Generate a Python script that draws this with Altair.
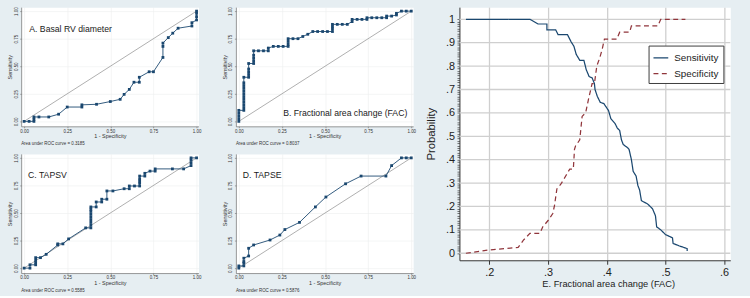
import altair as alt
import pandas as pd

NAVY = "#1a476f"
MAROON = "#90353b"
BG = "#e6eef2"
LABELFONT = "Liberation Sans, Arial, sans-serif"
SANS = "Liberation Sans, Arial, sans-serif"

# ---------------- ROC data (1 - specificity, sensitivity) ----------------
a_fpr = [0, 0.029, 0.057, 0.057, 0.057, 0.086, 0.143, 0.2, 0.25, 0.335, 0.335, 0.42, 0.5,
         0.557, 0.58, 0.61, 0.637, 0.668, 0.668, 0.725, 0.75, 0.805, 0.805, 0.805, 0.836,
         0.862, 0.893, 0.973, 0.973, 1, 1, 1, 1]
a_tpr = [0, 0, 0, 0.02, 0.04, 0.04, 0.04, 0.065, 0.13, 0.13, 0.15, 0.155, 0.18,
         0.2, 0.245, 0.29, 0.355, 0.355, 0.4, 0.45, 0.45, 0.58, 0.68, 0.71, 0.76,
         0.8, 0.845, 0.865, 0.895, 0.92, 0.95, 0.98, 1]

b_fpr = [0, 0, 0, 0, 0,
         0.029, 0.029, 0.029, 0.029, 0.029, 0.029, 0.029, 0.029, 0.029, 0.029, 0.029, 0.029,
         0.057, 0.057, 0.057, 0.057, 0.057,
         0.086, 0.086, 0.086, 0.086, 0.086,
         0.114, 0.143, 0.171, 0.171, 0.2, 0.229, 0.257, 0.286, 0.286, 0.286, 0.286,
         0.314, 0.343, 0.371, 0.4, 0.429, 0.457, 0.486, 0.514, 0.543, 0.543, 0.543, 0.543,
         0.571, 0.6, 0.629, 0.657, 0.657, 0.686, 0.714, 0.743, 0.743,
         0.771, 0.8, 0.829, 0.857, 0.857, 0.886, 0.914, 0.914, 0.943, 0.971, 1]
b_tpr = [0, 0.025, 0.05, 0.075, 0.1,
         0.1, 0.125, 0.15, 0.175, 0.2, 0.225, 0.25, 0.275, 0.3, 0.325, 0.35, 0.4,
         0.4, 0.425, 0.45, 0.475, 0.525,
         0.525, 0.55, 0.575, 0.6, 0.64,
         0.64, 0.64, 0.64, 0.665, 0.68, 0.68, 0.68, 0.68, 0.7, 0.725, 0.75,
         0.75, 0.75, 0.77, 0.79, 0.815, 0.815, 0.815, 0.815, 0.815, 0.84, 0.86, 0.88,
         0.88, 0.88, 0.88, 0.905, 0.925, 0.925, 0.925, 0.925, 0.94,
         0.94, 0.94, 0.94, 0.94, 0.955, 0.955, 0.965, 0.98, 1, 1, 1]

c_fpr = [0, 0.034, 0.034, 0.067, 0.067, 0.067, 0.067, 0.095, 0.128, 0.195, 0.195, 0.225,
         0.258, 0.357, 0.387, 0.387, 0.387, 0.387, 0.387, 0.387, 0.387, 0.387, 0.387,
         0.418, 0.418, 0.45, 0.45, 0.48, 0.48, 0.515, 0.58, 0.61, 0.61, 0.64, 0.67, 0.67,
         0.67, 0.67, 0.67, 0.7, 0.7, 0.73, 0.76, 0.76, 0.86, 0.925, 0.968, 0.968, 0.968,
         0.968, 1]
c_tpr = [0, 0, 0.03, 0.03, 0.05, 0.07, 0.095, 0.095, 0.125, 0.21, 0.22, 0.22,
         0.265, 0.365, 0.365, 0.39, 0.415, 0.44, 0.465, 0.49, 0.515, 0.535, 0.555,
         0.555, 0.6, 0.6, 0.625, 0.625, 0.7, 0.7, 0.72, 0.72, 0.745, 0.745, 0.745, 0.77,
         0.79, 0.81, 0.835, 0.835, 0.86, 0.88, 0.88, 0.9, 0.9, 0.9, 0.93, 0.955, 0.98,
         1, 1]

d_fpr = [0, 0, 0.029, 0.029, 0.029, 0.029, 0.057, 0.057, 0.086, 0.181, 0.238, 0.267,
         0.352, 0.444, 0.505, 0.619, 0.709, 0.853, 0.886, 0.943, 0.971, 1]
d_tpr = [0, 0.02, 0.02, 0.045, 0.06, 0.09, 0.11, 0.18, 0.21, 0.255, 0.3, 0.35,
         0.415, 0.555, 0.645, 0.765, 0.835, 0.835, 0.93, 1, 1, 1]

roc_titles = ["A. Basal RV diameter", "B. Fractional area change (FAC)", "C. TAPSV", "D. TAPSE"]
roc_auc = ["Area under ROC curve = 0.3185", "Area under ROC curve = 0.8037",
           "Area under ROC curve = 0.5585", "Area under ROC curve = 0.5876"]
roc_label_pos = [(0.03, 0.84), (0.257, 0.08), (0.023, 0.84), (0.023, 0.84)]
roc_ticks = [0, 0.25, 0.5, 0.75, 1]
diag_pts = [0, 1]

# ---------------- sensitivity / specificity vs FAC cut-off ----------------
sens_x = [0.16, 0.269, 0.283, 0.298, 0.298, 0.313, 0.317, 0.333, 0.339, 0.344, 0.348,
          0.354, 0.361, 0.365, 0.37, 0.375, 0.379, 0.38, 0.384, 0.389, 0.395, 0.403,
          0.407, 0.414, 0.418, 0.422, 0.425, 0.428, 0.436, 0.438, 0.442, 0.445, 0.45,
          0.453, 0.456, 0.459, 0.47, 0.478, 0.483, 0.485, 0.492, 0.5, 0.512, 0.513,
          0.523, 0.537, 0.537]
sens_y = [1.0, 1.0, 0.98, 0.98, 0.955, 0.955, 0.935, 0.935, 0.905, 0.885, 0.85,
          0.825, 0.825, 0.785, 0.755, 0.75, 0.725, 0.7, 0.67, 0.645, 0.64, 0.61,
          0.575, 0.555, 0.535, 0.525, 0.485, 0.465, 0.45, 0.444, 0.40, 0.35, 0.33,
          0.29, 0.27, 0.225, 0.21, 0.19, 0.16, 0.113, 0.1, 0.08, 0.066, 0.042,
          0.032, 0.02, 0.01]
spec_x = [0.16, 0.199, 0.249, 0.258, 0.269, 0.286, 0.291, 0.3, 0.308, 0.311, 0.315,
          0.322, 0.33, 0.337, 0.343, 0.344, 0.345, 0.347, 0.35, 0.354, 0.358, 0.364,
          0.369, 0.375, 0.379, 0.383, 0.388, 0.392, 0.396, 0.417, 0.422, 0.439, 0.442,
          0.487, 0.492, 0.534]
spec_y = [0.0, 0.014, 0.025, 0.056, 0.085, 0.085, 0.113, 0.14, 0.17, 0.205, 0.275,
          0.296, 0.33, 0.36, 0.36, 0.40, 0.444, 0.46, 0.47, 0.485, 0.585, 0.6,
          0.66, 0.725, 0.725, 0.8, 0.835, 0.87, 0.915, 0.915, 0.945, 0.945, 0.972,
          0.972, 1.0, 1.0]
series_names = ["Sensitivity", "Specificity"]
e_x_ticks = [0.2, 0.3, 0.4, 0.5, 0.6]
e_y_major = [0, 0.1, 0.2, 0.3, 0.4, 0.5, 0.6, 0.7, 0.8, 0.9, 1.0]
e_y_ticks = [round(i / 100, 2) for i in range(101)]


def roc_panel(fpr, tpr, label, pos, auc):
    df = pd.DataFrame({"fpr": fpr, "tpr": tpr, "order": list(range(len(fpr)))})
    xs = alt.Scale(domain=[-0.017, 1.011], nice=False, zero=False)
    ys = alt.Scale(domain=[-0.045, 1.036], nice=False, zero=False)
    common = dict(labelFontSize=4.5, titleFontSize=5.5, labelFont=SANS, titleFont=SANS,
                  titleFontWeight="normal", labelColor="#333333", titleColor="#333333",
                  grid=True, gridColor="#eceeee", gridWidth=0.6, domainColor="#555555",
                  domainWidth=0.6, tickColor="#555555", tickWidth=0.5, tickSize=1.5,
                  values=roc_ticks, format=".2f")
    xax = alt.Axis(title="1 - Specificity", labelPadding=0.5, titlePadding=1, **common)
    yax = alt.Axis(title="Sensitivity", labelAngle=270, labelPadding=1.5, titlePadding=0.5,
                   **common)
    xe = alt.X("fpr:Q", scale=xs, axis=xax)
    ye = alt.Y("tpr:Q", scale=ys, axis=yax)
    diag = alt.Chart(pd.DataFrame({"fpr": diag_pts, "tpr": diag_pts})).mark_line(
        color="#8c8c8c", strokeWidth=0.7).encode(x=xe, y=ye)
    base = alt.Chart(df)
    line = base.mark_line(color=NAVY, strokeWidth=0.9).encode(x=xe, y=ye, order="order:Q")
    pts = base.mark_square(size=8, color=NAVY, opacity=1, filled=True).encode(x=xe, y=ye)
    txt = alt.Chart(pd.DataFrame({"fpr": [pos[0]], "tpr": [pos[1]], "t": [label]})).mark_text(
        align="left", baseline="middle", font=LABELFONT, fontSize=8.8, color="#1a1a1a"
    ).encode(x=xe, y=ye, text="t:N")
    return alt.layer(diag, line, pts, txt).properties(
        width=180, height=121,
        title=alt.TitleParams(auc, orient="bottom", anchor="start", frame="group",
                              fontSize=4.5, fontWeight="normal", font=SANS,
                              color="#333333", offset=2),
    )


panels = [roc_panel(f, t, lab, p, auc) for f, t, lab, p, auc in zip(
    [a_fpr, b_fpr, c_fpr, d_fpr], [a_tpr, b_tpr, c_tpr, d_tpr], roc_titles, roc_label_pos, roc_auc)]

# ---------------- panel E ----------------
rows = []
for i, (x, y) in enumerate(zip(sens_x, sens_y)):
    rows.append({"cut": x, "prob": y, "series": series_names[0], "order": i})
for i, (x, y) in enumerate(zip(spec_x, spec_y)):
    rows.append({"cut": x, "prob": y, "series": series_names[1], "order": i})
df_e = pd.DataFrame(rows)

ex = alt.Scale(domain=[0.149, 0.6105], nice=False, zero=False)
ey = alt.Scale(domain=[-0.03, 1.052], nice=False, zero=False)

e_xaxis = alt.Axis(values=e_x_ticks,
                   labelExpr="replace(format(datum.value, '.1f'), '0.', '.')",
                   title="E. Fractional area change (FAC)", titleFont=LABELFONT,
                   titleFontSize=9.4, titleFontWeight="normal", titleColor="#222222",
                   titleX=151, titleAlign="center",
                   labelFont=SANS, labelFontSize=11, labelColor="#222222",
                   tickSize=4, labelPadding=2, titlePadding=3, grid=True,
                   gridColor="#cfcfcf", gridWidth=1.3, domainColor="#333333", domainWidth=1,
                   tickColor="#333333", labelFlush=False)
e_yaxis = alt.Axis(values=e_y_ticks,
                   labelExpr="abs(datum.value*10 - round(datum.value*10)) < 0.001 ? "
                             "(datum.value == 0 ? '0' : (datum.value == 1 ? '1' : "
                             "replace(format(datum.value, '.1f'), '0.', '.'))) : ''",
                   title="Probability", titleFont=SANS, titleFontSize=11.5,
                   titleFontWeight="normal", titleColor="#222222", labelFont=SANS,
                   labelFontSize=11, labelColor="#222222", labelOverlap=False,
                   tickSize=2.5, tickWidth=0.7, labelPadding=2.5, titlePadding=9, grid=False,
                   domainColor="#333333", domainWidth=1, tickColor="#333333", labelFlush=False)

grid_y = alt.Chart(pd.DataFrame({"prob": e_y_major})).mark_rule(
    color="#cfcfcf", strokeWidth=1.3).encode(y=alt.Y("prob:Q", scale=ey, axis=e_yaxis))

legend = alt.Legend(orient="none", legendX=637, legendY=39, title=None, direction="vertical",
                    fillColor="white", strokeColor="#3c3c3c", padding=4,
                    labelFont=SANS, labelFontSize=10, labelColor="#222222",
                    symbolType="stroke", symbolSize=225, symbolStrokeWidth=1.2,
                    rowPadding=2, labelOffset=5, cornerRadius=0)

curves = alt.Chart(df_e).mark_line(strokeWidth=1.25).encode(
    x=alt.X("cut:Q", scale=ex, axis=e_xaxis),
    y=alt.Y("prob:Q", scale=ey, axis=e_yaxis),
    color=alt.Color("series:N", scale=alt.Scale(domain=series_names, range=[NAVY, MAROON]),
                    legend=legend),
    strokeDash=alt.StrokeDash("series:N", scale=alt.Scale(domain=series_names,
                                                          range=[[1, 0], [5, 3.5]]),
                              legend=legend),
    order="order:Q",
)

panel_e = alt.layer(grid_y, curves).properties(width=275, height=257)

left = alt.vconcat(
    alt.hconcat(panels[0], panels[1], spacing=21),
    alt.hconcat(panels[2], panels[3], spacing=21),
    spacing=7,
)

chart = alt.hconcat(left, panel_e, spacing=9).properties(
    padding={"left": 7.5, "top": 4, "right": 18, "bottom": 1}
).configure(background=BG).configure_view(fill="white", stroke="transparent")

chart.save("out.html", embed_options={"renderer": "svg", "actions": False})
